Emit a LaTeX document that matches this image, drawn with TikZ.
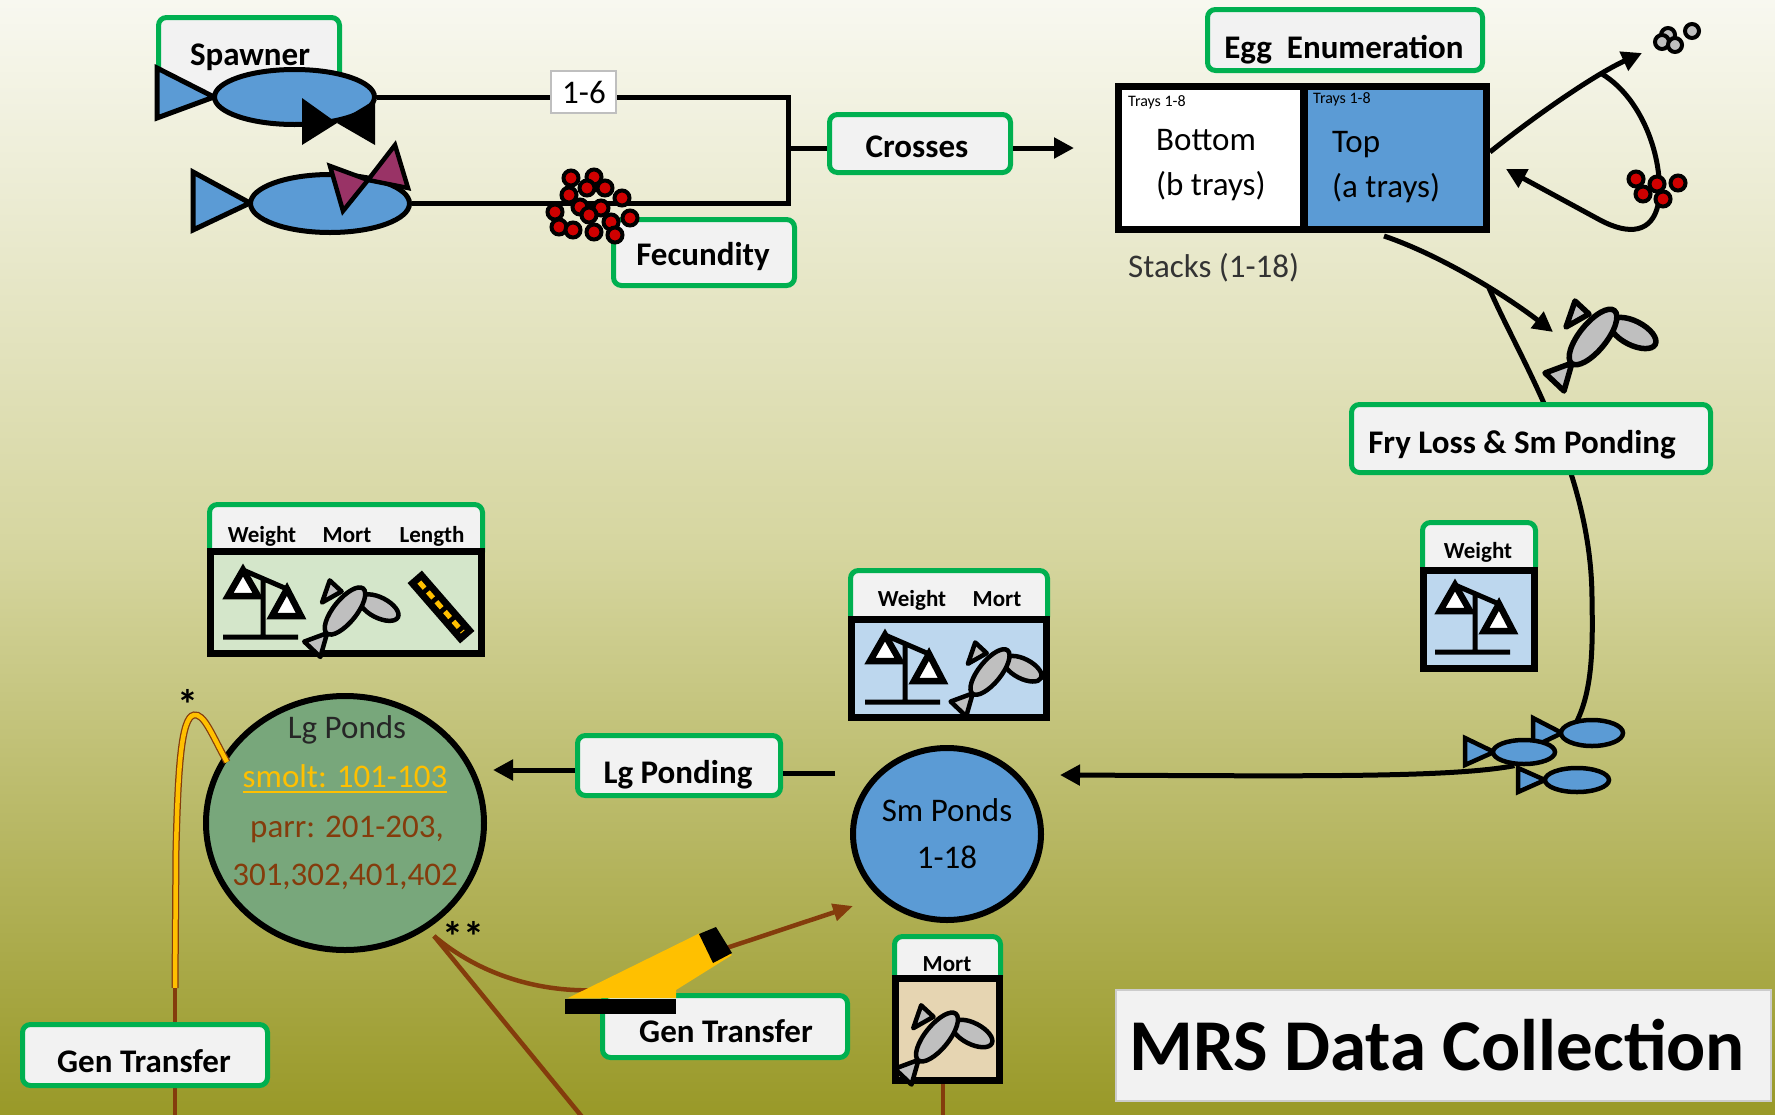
\documentclass[tikz,border=0pt]{standalone}
\usepackage{fontspec}
\setmainfont{Carlito}
\usetikzlibrary{shapes.geometric,arrows.meta,calc}

\definecolor{boxgreen}{HTML}{00B050}
\definecolor{boxfill}{HTML}{F2F2F2}
\definecolor{fishblue}{HTML}{5B9BD5}
\definecolor{paleblue}{HTML}{BDD7EE}
\definecolor{palegreen}{HTML}{D4E6CA}
\definecolor{tanbox}{HTML}{E6D5B2}
\definecolor{pondgreen}{HTML}{78A77B}
\definecolor{plum}{HTML}{993366}
\definecolor{gold}{HTML}{FFC000}
\definecolor{rust}{HTML}{843C0C}
\definecolor{eggred}{HTML}{D00000}
\definecolor{fishgray}{HTML}{BFBFBF}
\definecolor{bgtop}{RGB}{248,248,240}
\definecolor{bgmid}{RGB}{213,213,158}
\definecolor{bgbot}{RGB}{153,153,40}

% box from corner coordinates: style, name, x1, y1, x2, y2
\newcommand\placebox[6]{%
  \pgfmathsetmacro\pbx{(#3+#5)/2}%
  \pgfmathsetmacro\pby{(#4+#6)/2}%
  \pgfmathsetmacro\pbw{#5-#3}%
  \pgfmathsetmacro\pbh{#6-#4}%
  \node[#1, minimum width=\pbw pt, minimum height=\pbh pt] (#2) at (\pbx,\pby) {};}

\tikzset{
  lbl/.style={rectangle, draw=boxgreen, line width=5pt, fill=boxfill, rounded corners=8pt, inner sep=0pt},
  databox/.style={rectangle, draw=black, line width=7.5pt, inner sep=0pt},
  numtag/.style={rectangle, draw=black!25, line width=1.5pt, fill=white, inner sep=0pt},
  tbold/.style={font=\fontsize{33}{40}\selectfont\bfseries, anchor=base, inner sep=0pt},
  tplain/.style={font=\fontsize{33}{40}\selectfont, anchor=base, inner sep=0pt},
  thead/.style={font=\fontsize{23}{28}\selectfont\bfseries, anchor=base, inner sep=0pt},
  ttiny/.style={font=\fontsize{16}{19}\selectfont, anchor=base west, inner sep=0pt},
  conn/.style={line width=5pt},
  arr/.style={conn, -{Triangle[length=20pt,width=20pt]}},
  bconn/.style={draw=rust, line width=4.5pt},
  barr/.style={bconn, -{Triangle[length=20pt,width=17pt]}},
  fishbody/.style={ellipse, draw=black, fill=fishblue, line width=5pt, inner sep=0pt},
  fishtail/.style={draw=black, fill=fishblue, line width=5pt, line join=miter},
  pond/.style={ellipse, draw=black, line width=6pt, inner sep=0pt},
  egg/.style={draw=black, fill=eggred, line width=4pt},
  deadegg/.style={draw=black, fill=fishgray, line width=4pt},
  dfl/.style={line width=4.5pt},
  deadfish/.pic={
    \draw[dfl, fill=fishgray, rotate around={-27:(40,-4)}] (40,-4) ellipse [x radius=25pt, y radius=12pt];
    \draw[dfl, fill=fishgray, line join=round] (-18,-36) -- (-27,-10) -- (-4,-23) -- cycle;
    \draw[dfl, fill=fishgray, line join=round] (-21,26) -- (-48,36) -- (-29,54) -- cycle;
    \draw[dfl, fill=fishgray, rotate=51] (0,0) ellipse [x radius=34pt, y radius=13.5pt];
  },
  balance/.pic={
    \draw[line width=5pt] (-40,0) -- (35,0) (0,0) -- (0,-58) (-20,-67) -- (24,-48);
    \draw[line width=6.5pt, fill=white, line join=miter] (-20,-67) -- (-35,-41) -- (-5,-41) -- cycle;
    \draw[line width=6.5pt, fill=white, line join=miter] (24,-48) -- (9,-21) -- (38,-21) -- cycle;
  },
  ruler/.pic={
    \fill[black, rotate=-49] (-40,-9.5) rectangle (40,9.5);
    \draw[gold, line width=5pt, dash pattern=on 8pt off 5pt, rotate=-49] (-33,0) -- (33,0);
  },
}

\begin{document}
\begin{tikzpicture}[x=1pt,y=-1pt]
\useasboundingbox (0,0) rectangle (1775,1114);
\shade[top color=bgtop, bottom color=bgbot, middle color=bgmid] (0,0) rectangle (1775,1114);

% ---------- spawners and crosses ----------
\placebox{lbl}{spawner}{158.5}{17.5}{339.5}{97}
\node[tbold] (spawnerT) at (250,65) {Spawner};

\coordinate (jtop) at (788,97);
\coordinate (jbot) at (788,203.5);
\coordinate (jmid) at (788,148);
\coordinate (crossOut) at (1074,148);

% male
\draw[fishtail] (157,68) -- (157,118) -- (214,97) -- cycle;
\node[fishbody, minimum width=160pt, minimum height=55pt] (male) at (294.5,97) {};
\fill[black] (302,98) -- (302,145) -- (337,123) -- cycle;
\fill[black] (375,100) -- (375,145) -- (337,123) -- cycle;
% female
\draw[fishtail] (193,172) -- (193,230) -- (250,203) -- cycle;
\node[fishbody, minimum width=159pt, minimum height=58pt] (female) at (330,203.5) {};
\draw[fill=plum, line width=4.5pt, line join=miter] (330,166) -- (343,211) -- (368,180) -- cycle;
\draw[fill=plum, line width=4.5pt, line join=miter] (368,180) -- (395,145) -- (408,188) -- cycle;

\draw[conn] (male.east) -- (jtop) -- (jbot) -- (female.east);

\placebox{numtag}{pairs}{551}{71}{616}{113}
\node[tplain] (pairsT) at (584,103) {1-6};

\placebox{lbl}{crosses}{829.5}{114.5}{1010.5}{172.5}
\node[tbold] (crossesT) at (917,157) {Crosses};
\draw[conn] (jmid) -- (jmid -| crosses.west);
\draw[arr] (crosses.east |- crossOut) -- (crossOut);

\placebox{lbl}{fecundity}{613.5}{219.5}{794.5}{285.5}
\node[tbold] (fecundityT) at (703,265) {Fecundity};
\foreach \p in {(571,178),(594,177),(605,188),(569,195),(587,188),(622,198),(555,212),(580,207),(601,208),(589,215),(559,227),(573,230),(611,222),(594,232),(615,235),(630,218)}
  \draw[egg] \p circle[radius=7.5pt];

% ---------- egg enumeration ----------
\placebox{lbl}{eggenum}{1207.5}{9.5}{1482.5}{70.5}
\node[tbold] (eggenumT) at (1344,58) {Egg\ \ Enumeration};

\placebox{databox, fill=white}{bottomtray}{1118.5}{86.5}{1304}{229.5}
\placebox{databox, fill=fishblue}{toptray}{1304}{86.5}{1486.5}{229.5}
\node[ttiny] (trayLT) at (1128,106) {Trays 1-8};
\node[ttiny] (trayRT) at (1313,103) {Trays 1-8};
\node[tplain, anchor=base west] (bottomT) at (1156,150) {Bottom};
\node[tplain, anchor=base west] (bTraysT) at (1156,195) {(b trays)};
\node[tplain, anchor=base west] (topT) at (1332,152) {Top};
\node[tplain, anchor=base west] (aTraysT) at (1332,197) {(a trays)};
\node[tplain, anchor=base west, text=black!80] (stacksT) at (1128,277) {Stacks (1-18)};

% dead and live eggs leaving the top trays
\coordinate (trayR) at (1490,152);
\coordinate (deadTip) at (1642,53);
\coordinate (loopStart) at (1602,74);
\coordinate (liveTip) at (1506,169);
\draw[arr] (trayR) .. controls (1545,108) and (1600,72) .. (deadTip);
\draw[arr] (loopStart) .. controls (1645,100) and (1665,165) .. (1658,205)
   .. controls (1652,232) and (1630,236) .. (1600,220) -- (liveTip);
\foreach \p in {(1668,35),(1662,42),(1675,45),(1692,31)}
  \draw[deadegg] \p circle[radius=7pt];
\foreach \p in {(1636,179),(1657,184),(1678,183),(1643,194),(1663,199)}
  \draw[egg] \p circle[radius=7.5pt];

% ---------- fry ----------
\coordinate (trayOut) at (1384,236);
\coordinate (fryTip) at (1553,332);
\coordinate (fork) at (1489,288);
\coordinate (fryEnd) at (1577,721);
\draw[arr] (trayOut) .. controls (1440,255) and (1505,295) .. (fryTip);
\draw[conn] (fork) .. controls (1520,360) and (1592,470) .. (1592,600)
   .. controls (1593,650) and (1592,690) .. (fryEnd);
\pic[dfl/.style={line width=5.5pt}] at (1593,337) {deadfish};

\placebox{lbl}{fryloss}{1351.5}{404.5}{1710.5}{472.5}
\node[tbold] (frylossT) at (1522,453) {Fry Loss \& Sm Ponding};

\placebox{lbl}{wtH}{1422.5}{522.5}{1535.5}{575}
\placebox{databox, fill=paleblue}{wtD}{1423.5}{570.5}{1534.5}{668.5}
\node[thead] (wtHT) at (1478,558) {Weight};
\pic at (1475,652) {balance};

% fry group
\draw[fishtail, line width=4.5pt] (1533,718) -- (1533,747) -- (1562,733) -- cycle;
\node[fishbody, line width=4.5pt, minimum width=62pt, minimum height=26pt] (fry1) at (1592,733) {};
\draw[fishtail, line width=4.5pt] (1465,738) -- (1465,765) -- (1494,752) -- cycle;
\node[fishbody, line width=4.5pt, minimum width=62pt, minimum height=24pt] (fry2) at (1524,752) {};
\draw[fishtail, line width=4.5pt] (1518,768) -- (1518,792) -- (1545,780) -- cycle;
\node[fishbody, line width=4.5pt, minimum width=64pt, minimum height=24pt] (fry3) at (1577,780) {};

\coordinate (smIn) at (1060,775);
\draw[arr] (fry2.235) .. controls (1450,778) and (1300,776) .. (smIn);

% ---------- small ponds ----------
\placebox{lbl}{smH}{850.5}{570.5}{1047.5}{625}
\placebox{databox, fill=paleblue}{smD}{851.5}{619.5}{1046.5}{717.5}
\node[thead] (smW) at (912,606) {Weight};
\node[thead] (smM) at (997,606) {Mort};
\pic at (905,702) {balance};
\pic[scale=0.82] at (990,672) {deadfish};

\node[pond, fill=fishblue, minimum width=188pt, minimum height=172pt] (smpond) at (947,834) {};
\node[tplain] (smT1) at (947,821) {Sm Ponds};
\node[tplain] (smT2) at (947,868) {1-18};

% ---------- large ponds ----------
\placebox{lbl}{lgH}{209.5}{504.5}{482.5}{560}
\placebox{databox, fill=palegreen}{lgD}{210.5}{551.5}{481.5}{653.5}
\node[thead] (lgW) at (262,542) {Weight};
\node[thead] (lgM) at (347,542) {Mort};
\node[thead] (lgL) at (432,542) {Length};
\pic at (263,637) {balance};
\pic[scale=0.85] at (345,611) {deadfish};
\pic at (441,607) {ruler};

\node[pond, fill=pondgreen, minimum width=278pt, minimum height=254pt] (lgpond) at (345,823) {};
\node[tplain, text=black!85] (lgT1) at (347,738) {Lg Ponds};
\node[tplain, text=gold] (lgT2) at (345,787) {smolt: 101-103};
\draw[gold, line width=2pt] ($(lgT2.base west)+(0,5)$) -- ($(lgT2.base east)+(0,5)$);
\node[tplain, text=rust] (lgT3) at (347,837) {parr: 201-203,};
\node[tplain, text=rust] (lgT4) at (345,885) {301,302,401,402};

\placebox{lbl}{lgponding}{577.5}{735.5}{780.5}{795.5}
\node[tbold] (lgpondingT) at (678,783) {Lg Ponding};
\coordinate (smOut) at (835,773);
\coordinate (lgIn) at (493,770);
\draw[conn] (smOut) -- (smOut -| lgponding.east);
\draw[arr] (lgponding.west |- lgIn) -- (lgIn);

% ---------- genetic transfers ----------
\coordinate (smoltOut) at (227,762);
\coordinate (smoltDown) at (175,988);
\coordinate (smoltEnd) at (175,1118);
\draw[rust, line width=7pt] (smoltOut) .. controls (212,735) and (204,713) .. (194,715)
   .. controls (181,717) and (178,770) .. (176,850) -- (smoltDown);
\draw[gold, line width=4.5pt] (smoltOut) .. controls (212,735) and (204,713) .. (194,715)
   .. controls (181,717) and (178,770) .. (176,850) -- (smoltDown);
\draw[bconn] (smoltDown) -- (smoltEnd);
\node[font=\fontsize{42}{48}\selectfont\bfseries, inner sep=0pt] (star1) at (188,704) {*};

\coordinate (lgOut) at (434,936);
\coordinate (smGenIn) at (853,906);
\coordinate (discard) at (583,1118);
\draw[barr] (lgOut) .. controls (480,975) and (540,993) .. (600,990) -- (smGenIn);
\draw[bconn] (lgOut) -- (discard);
\node[font=\fontsize{42}{48}\selectfont\bfseries, inner sep=0pt] (star2) at (463,936) {**};

\placebox{lbl}{genL}{22.5}{1024.5}{267.5}{1085.5}
\node[tbold] (genLT) at (144,1072) {Gen Transfer};

\placebox{lbl}{genM}{602.5}{995.5}{847.5}{1057.5}
\node[tbold] (genMT) at (726,1042) {Gen Transfer};
% transfer tool
\fill[gold] (568,998) -- (700,933) -- (732,955) -- (676,990) -- (676,998) -- cycle;
\fill[black] (699,934) -- (716,927) -- (732,953) -- (713,963) -- cycle;
\fill[black] (565,999) rectangle (676,1014);

% ---------- mortality ----------
\coordinate (mortEnd) at (943,1118);
\placebox{lbl}{mortH}{894.5}{936.5}{1000.5}{985}
\placebox{databox, fill=tanbox}{mortD}{895.5}{978.5}{999.5}{1080.5}
\draw[bconn] (mortD.south -| mortEnd) -- (mortEnd);
\node[thead] (mortHT) at (947,971) {Mort};
\pic[scale=0.88] at (937,1037) {deadfish};

% ---------- title ----------
\placebox{numtag, draw=black!20, fill=boxfill}{title}{1116}{990}{1771}{1101}
\node[font=\fontsize{73}{80}\selectfont\bfseries, anchor=base west, inner sep=0pt] (titleT) at (1129,1070) {MRS Data Collection};
\end{tikzpicture}
\end{document}
